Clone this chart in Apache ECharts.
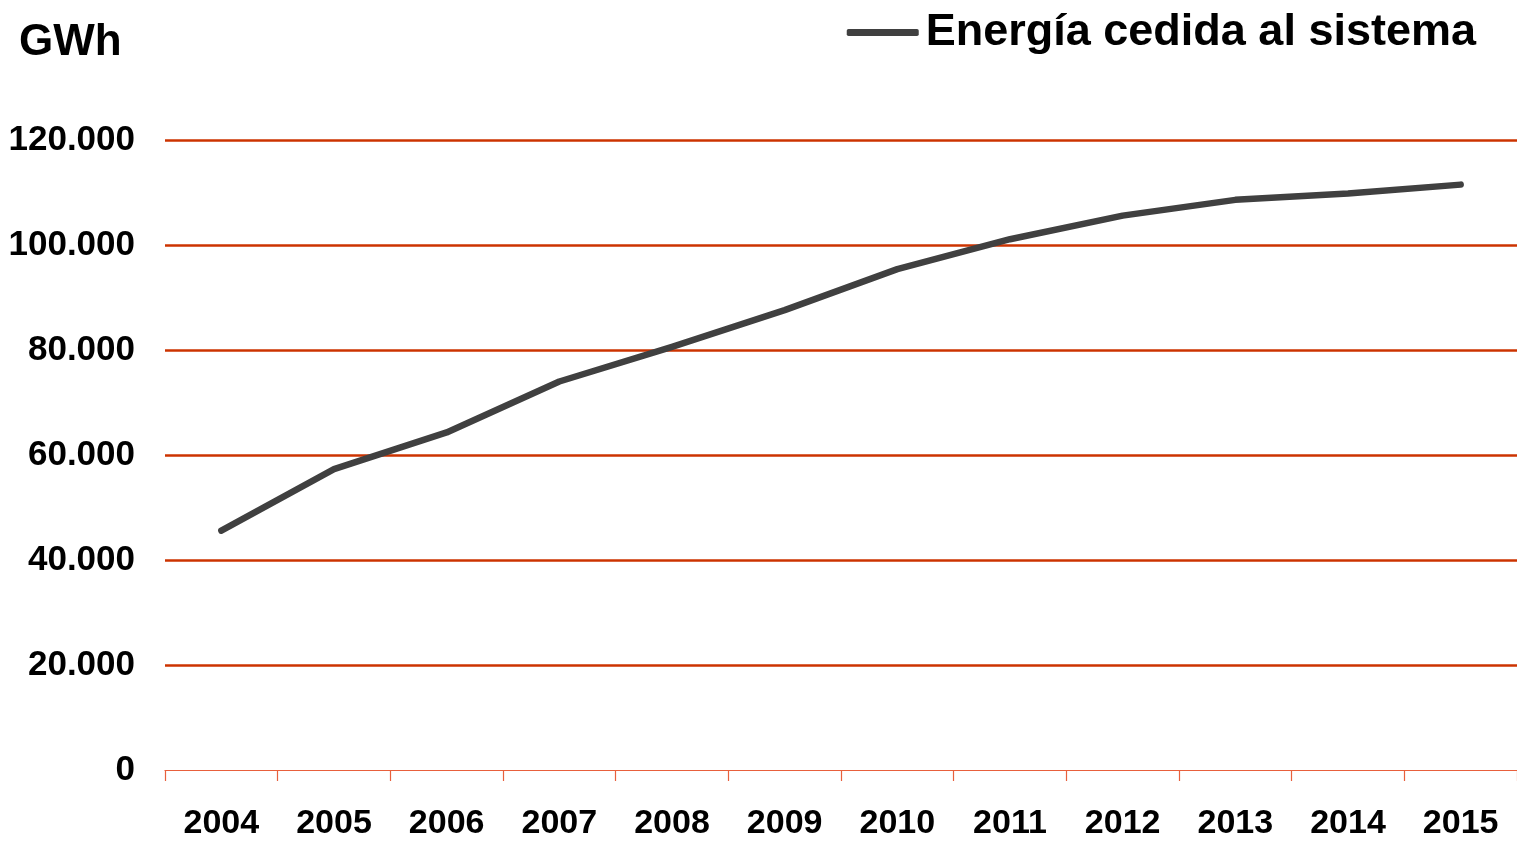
<!DOCTYPE html>
<html>
<head>
<meta charset="utf-8">
<script src="https://cdn.jsdelivr.net/npm/echarts@6/dist/echarts.min.js"></script>
<style>
    html, body { margin: 0; padding: 0; background: #fff; }
    #chart { width: 1517px; height: 841px; }
</style>
</head>
<body>
<div id="chart"></div>
<script>
// años del eje x
const years = ['2004', '2005', '2006', '2007', '2008', '2009', '2010', '2011', '2012', '2013', '2014', '2015'];
// energía cedida al sistema (GWh)
const energia = [45600, 57300, 64300, 74000, 80600, 87600, 95400, 101100, 105600, 108600, 109800, 111500];
// eje y
const yMin = 0;
const yMax = 120000;
const yStep = 20000;

const myChart = echarts.init(document.getElementById('chart'));
const font = '"Liberation Sans", Arial, sans-serif';

myChart.setOption({
    animation: false,
    textStyle: { fontFamily: font },
    title: {
        text: 'GWh',
        left: 14,
        top: 16,
        textStyle: { fontSize: 44, fontWeight: 'bold', color: '#000', fontFamily: font }
    },
    legend: {
        data: ['Energía cedida al sistema'],
        right: 36,
        top: 5,
        icon: 'roundRect',
        itemWidth: 72,
        itemHeight: 7,
        itemGap: 10,
        textStyle: { fontSize: 45, fontWeight: 'bold', color: '#000', fontFamily: font, padding: [0, 0, 0, 2] }
    },
    // 边距
    grid: {
        left: 165,
        right: 0,
        top: 140,
        bottom: 67,
        containLabel: false
    },
    xAxis: {
        type: 'category',
        data: years,
        boundaryGap: true,
        axisLine: { lineStyle: { color: '#e8603c', width: 1.2 } },
        axisTick: { show: true, length: 11, lineStyle: { color: '#e8603c', width: 1.2 } },
        axisLabel: { margin: 37, fontSize: 34, fontWeight: 'bold', color: '#000', fontFamily: font }
    },
    yAxis: {
        type: 'value',
        min: yMin,
        max: yMax,
        interval: yStep,
        axisLine: { show: false },
        axisTick: { show: false },
        splitLine: { showMinLine: false, lineStyle: { color: '#cc3300', width: 2.5 } },
        axisLabel: {
            margin: 30,
            fontSize: 35,
            fontWeight: 'bold',
            color: '#000',
            fontFamily: font,
            formatter: function (v) {
                return v.toString().replace(/\B(?=(\d{3})+(?!\d))/g, '.');
            }
        }
    },
    series: [{
        name: 'Energía cedida al sistema',
        type: 'line',
        data: energia,
        symbol: 'none',
        itemStyle: { color: '#404040' },
        lineStyle: { color: '#404040', width: 6.5, cap: 'round', join: 'round' }
    }]
});
</script>
</body>
</html>
